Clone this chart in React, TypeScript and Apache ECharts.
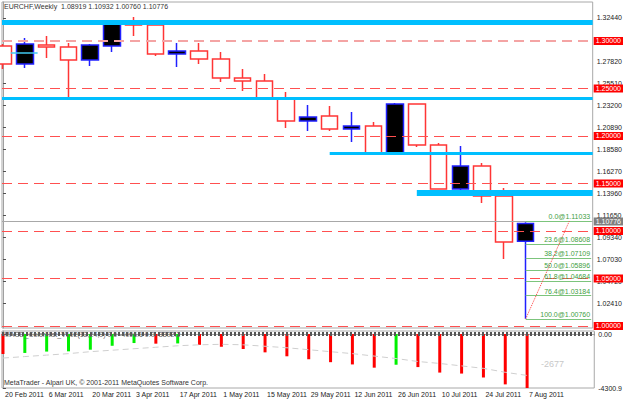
import React, { useEffect, useRef } from "react";
import * as echarts from "echarts";

const FONT = "'Liberation Sans Narrow', 'Liberation Sans', Arial, sans-serif";

// Weekly bars
const weeks = [
  "20 Feb 2011", "27 Feb 2011", "6 Mar 2011", "13 Mar 2011", "20 Mar 2011", "27 Mar 2011",
  "3 Apr 2011", "10 Apr 2011", "17 Apr 2011", "24 Apr 2011", "1 May 2011", "8 May 2011",
  "15 May 2011", "22 May 2011", "29 May 2011", "5 Jun 2011", "12 Jun 2011", "19 Jun 2011",
  "26 Jun 2011", "3 Jul 2011", "10 Jul 2011", "17 Jul 2011", "24 Jul 2011", "31 Jul 2011", "7 Aug 2011",
];
const openP = [1.2947, 1.2758, 1.2958, 1.2937, 1.2800, 1.2947, 1.3179, 1.3168, 1.2863, 1.2895, 1.2811, 1.2611, 1.2579, 1.2389, 1.2158, 1.2211, 1.2074, 1.2105, 1.1821, 1.2337, 1.1905, 1.1442, 1.1684, 1.1368, 1.08919];
const closeP = [1.2758, 1.2968, 1.2937, 1.2800, 1.2958, 1.3179, 1.3168, 1.2863, 1.2895, 1.2811, 1.2611, 1.2579, 1.2389, 1.2158, 1.2200, 1.2074, 1.2105, 1.1821, 1.2337, 1.1905, 1.1442, 1.1684, 1.1368, 1.0884, 1.10776];
const lowP = [1.2705, 1.2716, 1.2821, 1.2400, 1.2737, 1.2884, 1.3053, 1.2842, 1.2726, 1.2758, 1.2568, 1.2474, 1.2379, 1.2084, 1.2053, 1.2053, 1.1937, 1.1815, 1.1815, 1.1884, 1.1440, 1.1400, 1.1295, 1.0705, 1.00760];
const highP = [1.2968, 1.3032, 1.3053, 1.2979, 1.2968, 1.3189, 1.3253, 1.3168, 1.2979, 1.2979, 1.2884, 1.2705, 1.2653, 1.2463, 1.2326, 1.2316, 1.2253, 1.2147, 1.2347, 1.2340, 1.1926, 1.1895, 1.1716, 1.1453, 1.10932];

// MACD histogram and signal
const macdHist = [-1587, -1509, -1400, -1380, -1251, -938, -720, -770, -750, -860, -1017, -1196, -1462, -1775, -2010, -2244, -2424, -2682, -2448, -2635, -3073, -3151, -3464, -4012, -4300.9];
const macdUp = [false, true, true, true, true, true, true, false, true, false, false, false, false, false, false, false, false, false, true, false, false, false, false, false, false];
const macdSignal = [-1916, -1799, -1681, -1564, -1408, -1290, -1173, -1056, -938, -860, -821, -860, -977, -1095, -1251, -1408, -1564, -1759, -1955, -2190, -2346, -2541, -2737, -3050, -3302];

// Axis ticks
const dateTicks = [0, 2, 4, 6, 8, 10, 12, 14, 16, 18, 20, 22, 24];
const priceTicks = [1.3244, 1.2782, 1.2551, 1.232, 1.2089, 1.1858, 1.1627, 1.1396, 1.1165, 1.0934, 1.0703, 1.0472, 1.0241];
const roundLevels = [1.3, 1.25, 1.2, 1.15, 1.1, 1.05, 1.0];
const lastPrice = 1.10776;

// Chart objects
const cyanFull = [1.3153, 1.2392];
const cyanFullWidth = [5, 3];
const cyanSegStart = [15, 19];
const cyanSegLevel = [1.1821, 1.14];
const cyanSegWidth = [3, 6];
const shortLine = [[0.36, 1.2874], [1.59, 1.2874]];

const fibPct = ["0.0", "23.6", "38.2", "50.0", "61.8", "76.4", "100.0"];
const fibPrice = [1.11033, 1.08608, 1.07109, 1.05896, 1.04684, 1.03184, 1.0076];
const fibStart = 24;
const fibDiag = [[24, 1.0076], [26, 1.11033]];

const XMIN = -0.045;
const XMAX = 27.075;
const PMIN = 0.99789;
const PMAX = 1.34105;
const MMIN = -4300.9;
const MMAX = 239;

function buildOption() {
  const lineMarks: any[] = [];
  cyanFull.forEach((v, i) => {
    lineMarks.push({ yAxis: v, lineStyle: { color: "#00bfff", width: cyanFullWidth[i], type: "solid" }, label: { show: false } });
  });
  cyanSegLevel.forEach((v, i) => {
    lineMarks.push([
      { coord: [cyanSegStart[i], v], lineStyle: { color: "#00bfff", width: cyanSegWidth[i], type: "solid" }, label: { show: false } },
      { coord: [XMAX, v] },
    ]);
  });
  lineMarks.push([
    { coord: shortLine[0], lineStyle: { color: "#40c8f0", width: 1.5, type: "solid" }, label: { show: false } },
    { coord: shortLine[1] },
  ]);
  lineMarks.push({
    yAxis: lastPrice,
    lineStyle: { color: "#a8a8a8", width: 1, type: "solid" },
    label: {
      show: true, position: "end", distance: 1, formatter: lastPrice.toFixed(5),
      backgroundColor: "#808080", color: "#ffffff", fontSize: 7, fontFamily: FONT, padding: [1, 2, 0, 2],
    },
  });
  roundLevels.forEach((v) => {
    const top = v === 1.3;
    lineMarks.push({
      yAxis: v,
      lineStyle: { color: top ? "#f4a4a4" : "#ff5050", width: top ? 2 : 1.2, type: [10, 6] },
      label: {
        show: true, position: "end", distance: 1, formatter: v.toFixed(5),
        backgroundColor: "#ff0000", color: "#ffffff", fontSize: 7, fontFamily: FONT, padding: [1, 2, 0, 2],
      },
    });
  });
  fibPrice.forEach((p, i) => {
    lineMarks.push([
      {
        coord: [fibStart, p],
        lineStyle: { color: "#7cc47c", width: 1, type: "solid" },
        label: {
          show: true, position: "insideEndTop", distance: 1, formatter: fibPct[i] + "@" + p.toFixed(5),
          color: "#3fa03f", fontSize: 7, fontFamily: FONT,
        },
      },
      { coord: [XMAX - 0.07, p] },
    ]);
  });
  lineMarks.push([
    { coord: fibDiag[0], lineStyle: { color: "#ff4040", width: 1, type: "dotted" }, label: { show: false } },
    { coord: fibDiag[1] },
  ]);

  return {
    animation: false,
    backgroundColor: "#ffffff",
    textStyle: { fontFamily: FONT },
    grid: [
      { left: 2, top: 2, width: 598, height: 326, show: true, borderColor: "#a8a8a8", borderWidth: 1, backgroundColor: "transparent" },
      { left: 2, top: 331, width: 598, height: 57, show: true, borderColor: "#a8a8a8", borderWidth: 1, backgroundColor: "transparent" },
    ],
    xAxis: [
      { type: "value", gridIndex: 0, min: XMIN, max: XMAX, show: false },
      {
        type: "value", gridIndex: 1, min: XMIN, max: XMAX,
        axisLine: { show: true, lineStyle: { color: "#a0a0a0" } },
        axisTick: { show: true, customValues: dateTicks, length: 4, lineStyle: { color: "#505050" } },
        axisLabel: {
          customValues: dateTicks, formatter: (v: number) => weeks[Math.round(v)] || "",
          align: "left", margin: 3, fontSize: 7, color: "#222", fontFamily: FONT, padding: [0, 0, 0, 2],
        },
        splitLine: { show: false },
      },
    ],
    yAxis: [
      {
        type: "value", gridIndex: 0, position: "right", min: PMIN, max: PMAX,
        axisLine: { show: true, lineStyle: { color: "#a0a0a0" } },
        axisTick: { show: true, customValues: priceTicks, length: 3, lineStyle: { color: "#505050" } },
        axisLabel: { customValues: priceTicks, formatter: (v: number) => v.toFixed(5), margin: 4, fontSize: 7, color: "#222", fontFamily: FONT },
        splitLine: { show: false },
      },
      {
        type: "value", gridIndex: 1, position: "right", min: MMIN, max: MMAX,
        axisLine: { show: true, lineStyle: { color: "#a0a0a0" } },
        axisTick: { show: true, customValues: [0, MMIN], length: 3, lineStyle: { color: "#505050" } },
        axisLabel: {
          customValues: [0, MMIN], formatter: (v: number) => (v === 0 ? "0.00" : v.toFixed(1)),
          margin: 4, fontSize: 7, color: "#222", fontFamily: FONT,
        },
        splitLine: { show: false },
      },
    ],
    series: [
      {
        type: "line", xAxisIndex: 0, yAxisIndex: 0, data: [], z: 1, clip: false, silent: true,
        markLine: { symbol: ["none", "none"], silent: true, animation: false, data: lineMarks },
      },
      {
        type: "candlestick", xAxisIndex: 0, yAxisIndex: 0, z: 3, barWidth: 17,
        data: weeks.map((_, i) => [i, openP[i], closeP[i], lowP[i], highP[i]]),
        itemStyle: { color: "#000000", color0: "#ffffff", borderColor: "#2020ff", borderColor0: "#ff3535", borderWidth: 1.5 },
      },
      {
        type: "bar", xAxisIndex: 1, yAxisIndex: 1, barWidth: 3, z: 2,
        data: macdHist.map((v, i) => ({ value: [i, v], itemStyle: { color: macdUp[i] ? "#00f000" : "#ff0000" } })),
      },
      {
        type: "line", xAxisIndex: 1, yAxisIndex: 1, symbol: "none", z: 2,
        data: macdSignal.map((v, i) => [i, v]),
        lineStyle: { color: "#cfcfcf", width: 1, type: [6, 4] },
      },
      {
        type: "line", xAxisIndex: 1, yAxisIndex: 1, data: [], z: 4, silent: true,
        markLine: {
          symbol: ["none", "none"], silent: true, animation: false,
          data: [{ yAxis: 0, lineStyle: { color: "#555555", width: 4, type: [2, 2] }, label: { show: false } }],
        },
      },
    ],
    graphic: [
      { type: "text", left: 4, top: 3, z: 10, style: { text: "EURCHF,Weekly  1.08919 1.10932 1.00760 1.10776", fontSize: 7, fontFamily: FONT, fill: "#333" } },
      { type: "text", left: 4, top: 331, z: 10, style: { text: "MACD_ColorHist_V102(12,24,9) 0.0 -4096.1 0.0 -3302.2", fontSize: 7, fontFamily: FONT, fill: "#666" } },
      { type: "text", left: 4, top: 379, z: 10, style: { text: "MetaTrader - Alpari UK, © 2001-2011 MetaQuotes Software Corp.", fontSize: 7, fontFamily: FONT, fill: "#333" } },
      { type: "text", left: 541, top: 359, z: 10, style: { text: "-2677", fontSize: 9, fontFamily: FONT, fill: "#c8c8c8" } },
    ],
  };
}

export default function App() {
  const ref = useRef<HTMLDivElement>(null);
  useEffect(() => {
    const chart = echarts.init(ref.current!, null, { renderer: "svg" });
    chart.setOption(buildOption() as any);
    return () => chart.dispose();
  }, []);
  return <div ref={ref} style={{ width: 625, height: 402, position: "absolute", left: 0, top: 0 }} />;
}
